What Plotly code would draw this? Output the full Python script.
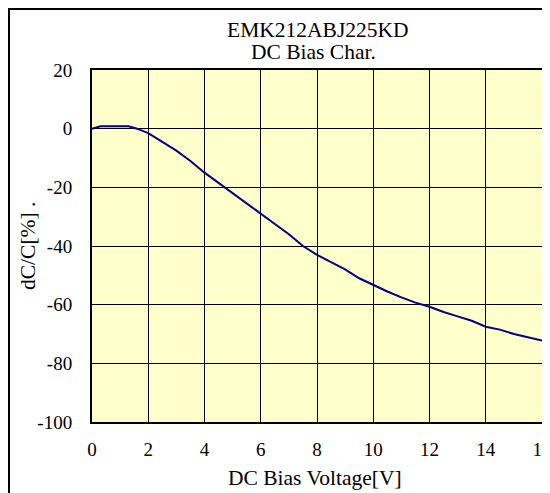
import plotly.graph_objects as go

voltage = [0, 0.3, 0.5, 1.0, 1.3, 1.6, 2.0, 2.5, 3.0, 3.5, 4.0, 4.5, 5.0, 5.5, 6.0, 6.5, 7.0, 7.5,
           8.0, 8.5, 9.0, 9.5, 10.0, 10.5, 11.0, 11.5, 12.0, 12.5, 13.0, 13.5, 14.0, 14.5, 15.0, 15.5, 16.0]
dcc = [0, 0.8, 0.8, 0.8, 0.8, 0, -1.5, -4.5, -7.5, -11, -15, -18.5, -22, -25.5, -29, -32.5, -36, -40,
       -43, -45.5, -48, -51, -53.3, -55.5, -57.5, -59.3, -60.7, -62.5, -64, -65.5, -67.5, -68.5, -70, -71, -72.2]

x_ticks = [0, 2, 4, 6, 8, 10, 12, 14, 16]
y_ticks = [20, 0, -20, -40, -60, -80, -100]
y_ticktext = ["20", "0", "-20", "-40", "-60", "-80", "-100"]

FONT = "Liberation Serif"
TFS = 21.5

# page has an 8px body margin; plot area in page pixels: x 92..542, y 70..422
def px(x):
    return (x - 92) / 450

def py(y):
    return (422 - y) / 352

fig = go.Figure()
fig.add_trace(go.Scatter(x=voltage, y=dcc, mode="lines",
                         line=dict(color="#000080", width=2), showlegend=False))

fig.update_layout(
    width=542, height=485,
    margin=dict(l=84, r=8, t=62, b=71, autoexpand=False),
    paper_bgcolor="white",
    plot_bgcolor="#FFFFCC",
    font=dict(family=FONT, size=19, color="black"),
    xaxis=dict(range=[0, 16], tickvals=x_ticks, showgrid=True, gridcolor="black", gridwidth=1,
               showline=True, linecolor="black", linewidth=2, mirror=True, zeroline=False,
               ticks="", ticklabelstandoff=9, tickfont=dict(family=FONT, size=19), automargin=False,
               ticklabeloverflow="allow"),
    yaxis=dict(range=[-100, 20], tickvals=y_ticks, ticktext=y_ticktext, showgrid=True,
               gridcolor="black", gridwidth=1, showline=True, linecolor="black", linewidth=2,
               mirror=True, zeroline=False, ticks="", ticklabelstandoff=14,
               tickfont=dict(family=FONT, size=19), automargin=False, ticklabeloverflow="allow"),
    annotations=[
        dict(text="EMK212ABJ225KD", x=px(318), y=py(30), xref="paper", yref="paper",
             showarrow=False, xanchor="center", yanchor="middle", font=dict(family=FONT, size=TFS)),
        dict(text="DC Bias Char.", x=px(313), y=py(52), xref="paper", yref="paper",
             showarrow=False, xanchor="center", yanchor="middle", font=dict(family=FONT, size=TFS)),
        dict(text="DC Bias Voltage[V]", x=px(315), y=py(478), xref="paper", yref="paper",
             showarrow=False, xanchor="center", yanchor="middle", font=dict(family=FONT, size=TFS)),
        dict(text="dC/C[%] .", x=px(28), y=0.5, xref="paper", yref="paper", textangle=-90,
             showarrow=False, xanchor="center", yanchor="middle", font=dict(family=FONT, size=TFS)),
    ],
    shapes=[
        dict(type="rect", xref="paper", yref="paper",
             x0=px(9), x1=1.2, y0=-0.4, y1=py(9),
             line=dict(color="black", width=2), fillcolor="rgba(0,0,0,0)", layer="below"),
    ],
)

fig.write_html("out.html")
